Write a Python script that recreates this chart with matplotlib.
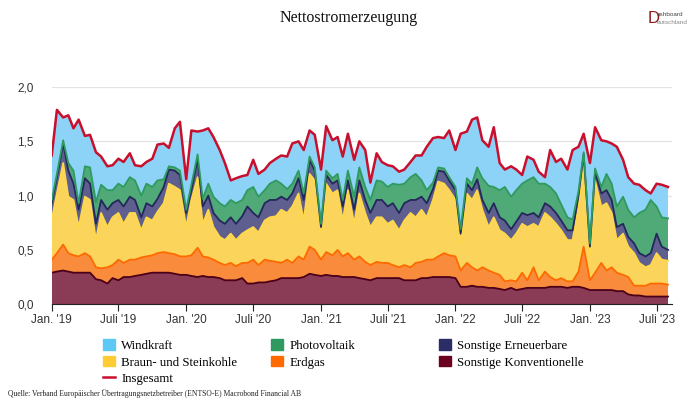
import matplotlib
matplotlib.use("Agg")
import matplotlib.pyplot as plt
from matplotlib.patches import Patch
from matplotlib.lines import Line2D
import numpy as np
import pandas as pd

# half-monthly values, Jan 2019 .. Aug 2023
dates = pd.date_range("2019-01-01", periods=111, freq="SMS")

konv = [.29, .30, .31, .30, .29, .29, .29, .29, .23, .22,
        .19, .24, .22, .25, .25, .26, .27, .28, .29, .29,
        .29, .29, .28, .27, .27, .26, .25, .26, .25, .25,
        .24, .22, .22, .22, .24, .19, .19, .20, .20, .21,
        .22, .24, .24, .24, .24, .25, .28, .27, .26, .27,
        .26, .26, .25, .25, .25, .24, .23, .22, .24, .24,
        .24, .24, .24, .22, .22, .22, .24, .24, .25, .25,
        .25, .25, .24, .16, .16, .17, .16, .16, .15, .15,
        .14, .13, .15, .13, .14, .15, .15, .15, .15, .16,
        .16, .16, .15, .16, .16, .15, .13, .13, .13, .13,
        .13, .12, .12, .09, .08, .08, .07, .07, .07, .07, .07]

erdgas = [.12, .17, .24, .17, .16, .15, .18, .15, .11, .11,
          .15, .12, .19, .13, .16, .15, .16, .16, .16, .18,
          .19, .18, .18, .17, .17, .19, .27, .18, .18, .16,
          .14, .14, .16, .13, .14, .19, .22, .16, .21, .19,
          .17, .14, .17, .14, .20, .16, .25, .23, .15, .21,
          .19, .24, .19, .22, .16, .20, .16, .14, .15, .14,
          .14, .12, .10, .14, .12, .16, .15, .17, .16, .19,
          .22, .20, .20, .15, .22, .17, .15, .18, .16, .14,
          .13, .08, .07, .08, .15, .07, .19, .07, .15, .09,
          .06, .08, .06, .05, .14, .38, .09, .16, .25, .18,
          .21, .17, .15, .16, .09, .09, .10, .12, .12, .12, .11]

kohle = [.37, .55, .75, .52, .51, .27, .52, .52, .25, .51,
         .37, .44, .43, .36, .43, .43, .25, .36, .32, .38,
         .45, .64, .62, .61, .27, .51, .65, .30, .44, .30,
         .24, .23, .27, .24, .27, .30, .30, .30, .36, .40,
         .42, .49, .43, .52, .58, .36, .67, .64, .24, .63,
         .57, .55, .33, .58, .33, .58, .45, .35, .41, .42,
         .36, .41, .34, .41, .50, .42, .48, .39, .55, .69,
         .64, .60, .52, .25, .64, .62, .74, .53, .40, .51,
         .41, .44, .37, .44, .45, .49, .40, .49, .54, .55,
         .52, .44, .38, .38, .60, .77, .22, .85, .52, .62,
         .50, .30, .38, .28, .30, .21, .17, .17, .28, .22, .22]

sonst_ee = [.15, .15, .18, .24, .15, .16, .17, .15, .15, .12,
            .16, .13, .12, .16, .15, .12, .12, .13, .13, .12,
            .15, .13, .15, .14, .13, .09, .17, .16, .13, .13,
            .15, .15, .15, .15, .16, .22, .13, .14, .16, .16,
            .15, .12, .12, .12, .14, .19, .13, .09, .06, .08,
            .09, .09, .13, .09, .13, .12, .12, .13, .16, .16,
            .16, .16, .16, .16, .12, .16, .12, .13, .10, .10,
            .11, .09, .09, .09, .09, .09, .10, .09, .13, .13,
            .12, .12, .10, .11, .10, .11, .10, .09, .09, .10,
            .10, .09, .09, .09, .10, .08, .09, .08, .12, .12,
            .12, .12, .09, .09, .09, .09, .10, .11, .18, .12, .10]

pv = [.03, .03, .03, .07, .12, .06, .11, .15, .20, .14,
      .18, .12, .15, .18, .18, .18, .20, .18, .18, .17,
      .07, .03, .03, .04, .03, .05, .04, .07, .11, .15,
      .16, .16, .16, .19, .15, .15, .24, .19, .12, .15,
      .18, .12, .10, .09, .07, .06, .03, .03, .03, .04,
      .05, .06, .06, .09, .12, .12, .12, .12, .18, .17,
      .18, .18, .26, .18, .21, .24, .15, .12, .06, .03,
      .03, .03, .03, .04, .05, .06, .11, .20, .25, .15,
      .25, .31, .30, .29, .27, .32, .33, .31, .18, .18,
      .18, .15, .12, .10, .04, .02, .03, .03, .06, .15,
      .15, .19, .25, .25, .24, .37, .43, .49, .25, .27, .29]

wind = [.41, .59, .21, .44, .39, .77, .28, .30, .46, .26,
        .22, .23, .23, .23, .22, .14, .27, .20, .26, .33,
        .33, .17, .36, .45, .28, .50, .21, .63, .51, .55,
        .49, .40, .18, .23, .22, .14, .25, .21, .19, .19,
        .20, .26, .30, .37, .27, .40, .24, .30, .50, .41,
        .35, .34, .40, .34, .34, .24, .34, .16, .25, .18,
        .20, .16, .12, .13, .14, .17, .23, .40, .41, .28,
        .28, .43, .34, .88, .43, .59, .46, .35, .36, .55,
        .25, .16, .28, .19, .08, .22, .16, .11, .06, .34,
        .29, .42, .44, .64, .41, .17, .74, .38, .43, .30,
        .37, .55, .34, .30, .31, .26, .18, .06, .21, .30, .29]

names = ["Sonstige Konventionelle", "Erdgas", "Braun- und Steinkohle",
         "Sonstige Erneuerbare", "Photovoltaik", "Windkraft"]
fill_cols = ["#8a3b55", "#f98c3c", "#fbd45c", "#5e5f8f", "#4faa78", "#8dd3f7"]
edge_cols = ["#4b0018", "#ff6a00", "#ffd84a", "#24275a", "#2e9a60", "#5bc8f5"]
legend_cols = ["#6b0020", "#ff6a00", "#ffcc33", "#2b2e66", "#2e9a60", "#5bc8f5"]
total_col = "#c8102e"

series = np.array([konv, erdgas, kohle, sonst_ee, pv, wind])
tops = np.cumsum(series, axis=0)
insgesamt = tops[-1]

fig = plt.figure(figsize=(6.9, 4.05), dpi=100)
ax = fig.add_axes([0.075, 0.249, 0.899, 0.536])

ax.stackplot(dates, series, colors=fill_cols, linewidth=0)
for i in range(5):
    ax.plot(dates, tops[i], color=edge_cols[i], lw=1.3)
ax.plot(dates, insgesamt, color=total_col, lw=1.8)

ax.set_ylim(0, 2.0)
ax.set_xlim(pd.Timestamp("2019-01-01"), pd.Timestamp("2023-08-12"))
ax.set_yticks([0, 0.5, 1.0, 1.5, 2.0])
ax.set_yticklabels(["0,0", "0,5", "1,0", "1,5", "2,0"])
ax.grid(axis="y", color="#e3e3e3", lw=0.9)
ax.set_axisbelow(True)

xt = [pd.Timestamp(f"20{y}-{m:02d}-01") for y in range(19, 24) for m in (1, 7)]
xl = [("Jan. '" if t.month == 1 else "Juli '") + t.strftime("%y") for t in xt]
ax.set_xticks(xt)
ax.set_xticklabels(xl)

for s in ("top", "right", "left"):
    ax.spines[s].set_visible(False)
ax.spines["bottom"].set_color("#222222")
ax.tick_params(axis="y", length=0, pad=13, labelsize=8.5, labelcolor="#333333")
ax.tick_params(axis="x", length=5, color="#222222", labelsize=8.5, labelcolor="#333333", pad=2)
for lab in ax.get_xticklabels() + ax.get_yticklabels():
    lab.set_fontfamily("Liberation Sans")

fig.text(0.505, 0.955, "Nettostromerzeugung", ha="center", va="center",
         family="Liberation Serif", fontsize=11.5, color="#111111")

# logo
fig.text(0.938, 0.955, "D", ha="left", va="center", family="Liberation Sans",
         fontsize=12, color="#8b1a1a")
fig.text(0.952, 0.965, "ashboard", ha="left", va="center", family="Liberation Sans",
         fontsize=4.6, color="#444444")
fig.text(0.952, 0.945, "eutschland", ha="left", va="center", family="Liberation Sans",
         fontsize=4.6, color="#888888")

# legend, three fixed-width columns
lfont = {"family": "Liberation Serif", "size": 9.3}
columns = [
    [Patch(color=legend_cols[5], label=names[5]),
     Patch(color=legend_cols[2], label=names[2]),
     Line2D([], [], color=total_col, lw=1.8, label="Insgesamt")],
    [Patch(color=legend_cols[4], label=names[4]),
     Patch(color=legend_cols[1], label=names[1])],
    [Patch(color=legend_cols[3], label=names[3]),
     Patch(color=legend_cols[0], label=names[0])],
]
for j, handles in enumerate(columns):
    x0 = [103, 271, 439][j] / 690
    fig.legend(handles=handles, loc="upper left", bbox_to_anchor=(x0, 1 - 339 / 405),
               frameon=False, prop=lfont, handlelength=0.9, handleheight=0.9,
               handletextpad=0.5, labelspacing=0.3, borderpad=0, borderaxespad=0)

fig.text(0.012, 1 - 394 / 405,
         "Quelle: Verband Europäischer Übertragungsnetzbetreiber (ENTSO-E) Macrobond Financial AB",
         ha="left", va="center", family="Liberation Serif", fontsize=5.5, color="#222222")

fig.savefig("out.png", dpi=100, facecolor="white")
